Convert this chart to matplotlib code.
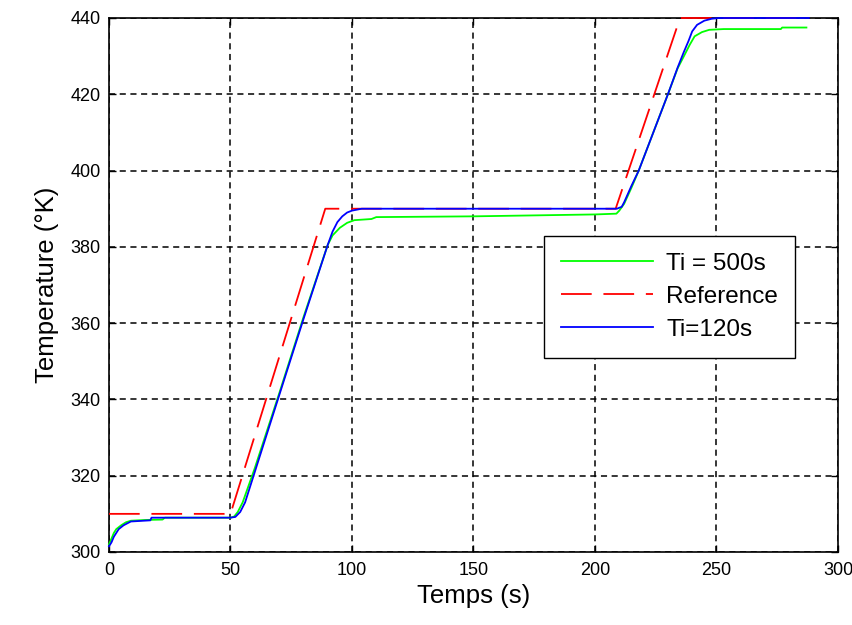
import matplotlib.pyplot as plt

# Ti = 500s (green)
t_500 = [0, 1, 2, 3, 5, 7, 9, 15, 22, 23, 30, 50, 51.5, 53, 55, 60, 70, 80, 90, 92, 95, 98, 101,
         108, 110, 150, 200, 208.8, 210, 212, 215, 218, 224, 230, 234, 237, 239, 241, 244, 247,
         253, 276.5, 277, 287]
y_500 = [302, 303.5, 305, 306, 307, 307.8, 308.2, 308.4, 308.5, 309, 309, 309, 309.3, 310.5, 313,
         322, 341.5, 361.5, 380.5, 383, 385, 386.3, 387, 387.3, 387.8, 388, 388.5, 388.7, 389.5,
         391.3, 395.5, 400, 410, 420, 426.8, 430.5, 433, 435.2, 436.3, 436.9, 437.1, 437.1, 437.5,
         437.5]

# Reference (red dashed)
t_ref = [0, 50, 89, 208.5, 235, 287]
y_ref = [310, 310, 390, 390, 440, 440]

# Ti = 120s (blue)
t_120 = [0, 1, 2, 4, 6, 9, 17, 17.5, 30, 50, 52, 54, 56, 60, 70, 80, 90, 92, 94, 96, 98, 100, 104,
         150, 209, 211, 212, 215, 218, 224, 230, 234, 236.5, 238.5, 240, 242, 245, 248, 251, 288]
y_120 = [301.5, 302.5, 304, 306, 307, 308, 308.3, 309, 309, 309, 309.2, 310.5, 313, 321, 341, 361,
         380.5, 384, 386.5, 388, 389, 389.5, 390, 390, 390, 390.5, 391.7, 396, 400, 410, 420, 427,
         431, 434, 436.5, 438.2, 439.3, 439.8, 440, 440]

plt.rcParams['font.family'] = 'Liberation Sans'
fig = plt.figure(figsize=(8.53, 6.25), dpi=100)
ax = fig.add_axes([109 / 853, 73 / 625, 729 / 853, 534 / 625])

ax.plot(t_500, y_500, color=(0, 1, 0), lw=1.3, label='Ti = 500s', clip_on=False, zorder=3)
ax.plot(t_ref, y_ref, color=(1, 0, 0), lw=1.3, ls=(0, (17, 6.5)), label='Reference',
        clip_on=False, zorder=3)
ax.plot(t_120, y_120, color=(0, 0, 1), lw=1.3, label='Ti=120s', clip_on=False, zorder=3)

ax.set_xlim(0, 300)
ax.set_ylim(300, 440)
ax.set_xticks(range(0, 301, 50))
ax.set_yticks(range(300, 441, 20))
ax.grid(True, color='black', ls=(0, (4, 3)), lw=1.1)
ax.tick_params(direction='in', top=True, right=True, length=5, labelsize=13, width=1)
ax.tick_params(axis='x', pad=7)
ax.tick_params(axis='y', pad=6)
for s in ax.spines.values():
    s.set_linewidth(1.2)

ax.set_xlabel('Temps (s)', fontsize=18.5, labelpad=4)
ax.set_ylabel('Temperature (°K)', fontsize=18.5, labelpad=8)

leg = ax.legend(loc='upper right', bbox_to_anchor=(686 / 729, 0.5918), fontsize=17.5,
                fancybox=False, edgecolor='black', framealpha=1, handlelength=3.8,
                handletextpad=0.53, borderpad=0.7, labelspacing=0.45, borderaxespad=0)
leg.get_frame().set_linewidth(1.0)

plt.savefig('out.png', dpi=100)
